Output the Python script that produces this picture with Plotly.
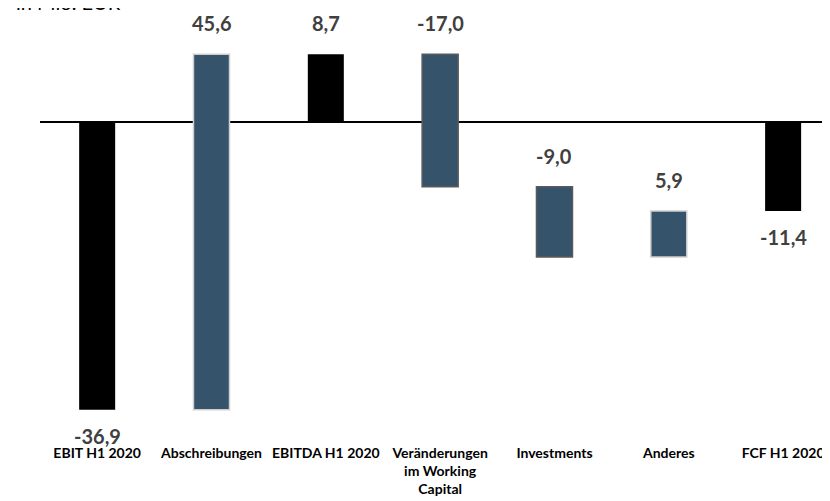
"""
Bridge from EBIT H1 2020 to free cash flow H1 2020 (waterfall).
"""

import plotly.graph_objects as go

categories = ["EBIT H1 2020", "Abschreibungen", "EBITDA H1 2020",
              "Veränderungen<br>im Working<br>Capital", "Investments",
              "Anderes", "FCF H1 2020"]
measures = ["absolute", "relative", "total", "relative", "relative",
            "relative", "total"]
values = [-36.9, 45.6, 0, -17.0, -9.0, 5.9, 0]
value_labels = ["-36,9", "45,6", "8,7", "-17,0", "-9,0", "5,9", "-11,4"]
label_below = [True, False, False, False, False, False, True]

BLUE = "#35536b"
LABEL_GREY = "#404040"

# running totals so the value labels can sit at the bar ends
starts, ends = [], []
running = 0.0
for m, v in zip(measures, values):
    if m == "absolute":
        s, running = 0.0, v
    elif m == "total":
        s = 0.0
    else:
        s, running = running, running + v
    starts.append(s)
    ends.append(running)

fig = go.Figure(go.Waterfall(
    x=list(range(len(categories))),
    measure=measures,
    y=values,
    width=0.315,
    base=0,
    connector=dict(visible=False),
    increasing=dict(marker=dict(color=BLUE, line=dict(color="#d0d0d0", width=1.5))),
    decreasing=dict(marker=dict(color=BLUE, line=dict(color="#5a5a5a", width=1.5))),
    totals=dict(marker=dict(color="#000000", line=dict(width=0))),
    hoverinfo="skip",
))

for i, txt in enumerate(value_labels):
    if label_below[i]:
        y, shift = min(starts[i], ends[i]), -26
    else:
        y, shift = max(starts[i], ends[i]), 31
    fig.add_annotation(x=i, y=y, text=txt, showarrow=False, yshift=shift,
                       yanchor="middle",
                       font=dict(family="Lato", size=20, color=LABEL_GREY,
                                 weight="bold"))

# unit note, mostly cropped off the top edge as in the source image
fig.add_annotation(xref="paper", yref="paper", x=-0.0329, y=0.985,
                   xanchor="left", yanchor="bottom", showarrow=False,
                   text="in Mio. EUR",
                   font=dict(family="Lato", size=20, color="#000000"))

# page body adds an 8px margin, so the figure is 8px smaller than the window
fig.update_layout(
    width=822, height=493,
    margin=dict(l=32, r=0, t=2, b=86),
    paper_bgcolor="white", plot_bgcolor="white",
    showlegend=False,
    font=dict(family="Lato"),
    xaxis=dict(range=[-0.5, 6.41], tickmode="array",
               tickvals=list(range(len(categories))), ticktext=categories,
               showgrid=False, zeroline=False, showline=False, ticks="",
               ticklabelstandoff=28,
               tickfont=dict(family="Lato", size=14, color="#000000",
                             weight="bold")),
    yaxis=dict(range=[-37.56, 14.36], visible=True, showticklabels=False,
               showgrid=False, zeroline=True, zerolinecolor="#000000",
               zerolinewidth=1.5, ticks=""),
)

fig.write_html("out.html")
